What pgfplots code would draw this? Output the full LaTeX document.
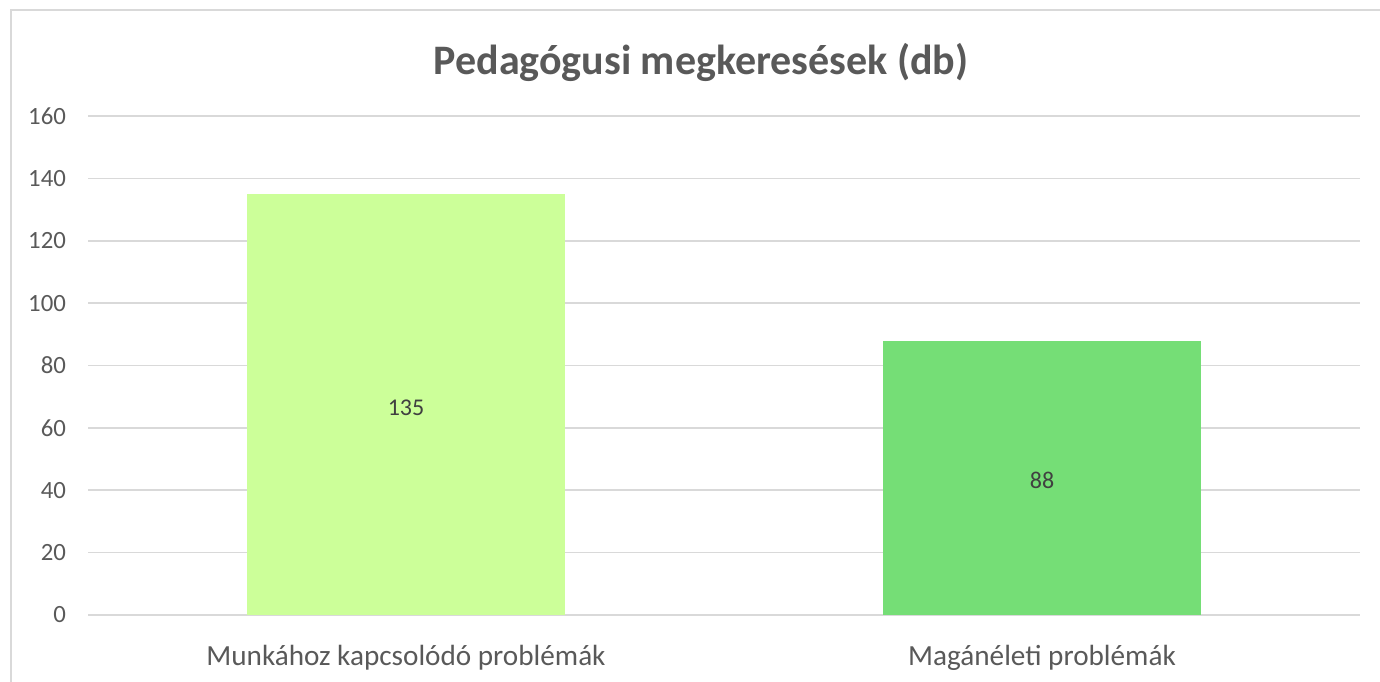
\documentclass[border=0pt]{standalone}
\usepackage{pgfplots}
\pgfplotsset{compat=1.18}
\usepackage{fontspec}
\setmainfont{Carlito}
\definecolor{txt}{HTML}{595959}
\definecolor{lbl}{HTML}{404040}
\definecolor{gridc}{HTML}{D9D9D9}
\definecolor{barA}{HTML}{CCFF99}
\definecolor{barB}{HTML}{75DE76}
\begin{document}
\begin{tikzpicture}
  \clip (0,0) rectangle (690pt,340.5pt);
  \draw[gridc, line width=0.8pt] (5.5pt,-20pt) rectangle (720pt,335.5pt);
  \begin{axis}[
      at={(44pt,33pt)}, anchor=south west,
      scale only axis, width=636pt, height=249.5pt,
      title={Pedagógusi megkeresések (db)},
      title style={at={(0.482,1.108)}, anchor=center, text=txt, yshift=-6pt,
        font=\bfseries\fontsize{21}{25}\selectfont},
      ymin=0, ymax=160, ytick={0,20,...,160},
      xmin=-0.5, xmax=1.5, xtick={0,1},
      xticklabels={Munkához kapcsolódó problémák, Magánéleti problémák},
      /pgf/number format/assume math mode=true,
      axis line style={draw=none},
      major tick length=0pt,
      ymajorgrids, grid style={gridc, line width=0.8pt},
      yticklabel style={font=\fontsize{12.4}{14}\selectfont, text=txt, xshift=-7.5pt},
      xticklabel style={font=\fontsize{14.6}{17}\selectfont, text=txt, yshift=-11.5pt},
      visualization depends on=rawy \as \rawy,
      nodes near coords,
      every node near coord/.style={anchor=center, text=lbl,
        font=\fontsize{12}{14}\selectfont, yshift=-1.5pt,
        shift={(axis direction cs:0,-\rawy/2)}},
    ]
    \addplot[ybar, bar width=0.5, fill=barA, draw=none] coordinates {(0,135)};
    \addplot[ybar, bar width=0.5, fill=barB, draw=none] coordinates {(1,88)};
  \end{axis}
\end{tikzpicture}
\end{document}
